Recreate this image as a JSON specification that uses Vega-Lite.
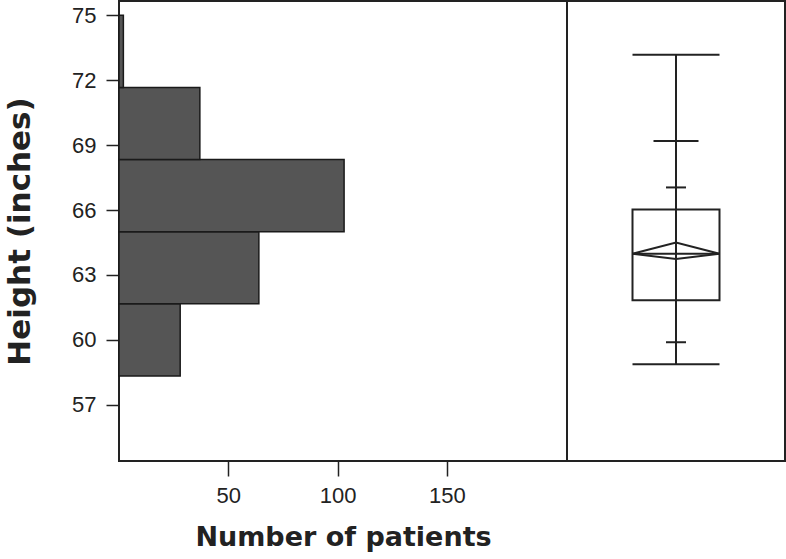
{
  "$schema": "https://vega.github.io/schema/vega-lite/v6.json",
  "padding": {"left": 3, "top": 0, "right": 0, "bottom": 2},
  "background": "white",
  "spacing": 0,
  "bounds": "flush",
  "config": {
    "view": {"stroke": "#222222", "strokeWidth": 2},
    "axis": {
      "labelFont": "Liberation Sans",
      "titleFont": "DejaVu Sans",
      "labelColor": "#222222",
      "titleColor": "#222222",
      "tickColor": "#222222",
      "tickWidth": 1.5,
      "grid": false,
      "domain": false,
      "labelFontSize": 22,
      "titleFontWeight": "bold"
    }
  },
  "hconcat": [
    {
      "width": 448,
      "height": 460,
      "data": {
        "values": [
          {"bin_start": 58.333, "bin_end": 61.667, "count": 28},
          {"bin_start": 61.667, "bin_end": 65.0, "count": 64},
          {"bin_start": 65.0, "bin_end": 68.333, "count": 103},
          {"bin_start": 68.333, "bin_end": 71.667, "count": 37},
          {"bin_start": 71.667, "bin_end": 75.0, "count": 2}
        ]
      },
      "mark": {"type": "bar", "fill": "#555555", "stroke": "#1a1a1a", "strokeWidth": 1.5, "orient": "horizontal"},
      "encoding": {
        "y": {
          "field": "bin_start",
          "type": "quantitative",
          "scale": {"domain": [54.63, 75.43], "nice": false, "zero": false},
          "axis": {
            "title": "Height (inches)",
            "values": [57, 60, 63, 66, 69, 72, 75],
            "tickSize": 13,
            "labelPadding": 10,
            "titleFontSize": 31,
            "titlePadding": 35
          }
        },
        "y2": {"field": "bin_end"},
        "x": {
          "field": "count",
          "type": "quantitative",
          "scale": {"domain": [0, 205], "nice": false},
          "axis": {
            "title": "Number of patients",
            "values": [50, 100, 150],
            "tickSize": 15,
            "labelPadding": 9,
            "titleFontSize": 27,
            "titlePadding": 18
          }
        },
        "x2": {"datum": 0}
      }
    },
    {
      "width": 218,
      "height": 460,
      "data": {
        "values": [
          {"group": "Height", "min": 59, "p10": 60, "q1": 61.9, "median": 64, "mean": 64, "q3": 66, "p90": 67, "p975": 69.1, "max": 73}
        ]
      },
      "encoding": {
        "x": {"field": "group", "type": "nominal", "scale": {"paddingInner": 0, "paddingOuter": 0}, "axis": null}
      },
      "layer": [
        {
          "mark": {"type": "rule", "stroke": "#222222", "strokeWidth": 2},
          "encoding": {
            "y": {"field": "min", "type": "quantitative", "scale": {"domain": [54.63, 75.43], "nice": false, "zero": false}, "axis": null},
            "y2": {"field": "max"}
          }
        },
        {
          "mark": {"type": "bar", "filled": false, "stroke": "#222222", "strokeWidth": 2, "width": 87},
          "encoding": {
            "y": {"field": "q1", "type": "quantitative", "scale": {"domain": [54.63, 75.43], "nice": false, "zero": false}, "axis": null},
            "y2": {"field": "q3"}
          }
        },
        {
          "mark": {"type": "tick", "color": "#222222", "opacity": 1, "thickness": 2, "size": 87},
          "encoding": {
            "y": {"field": "min", "type": "quantitative", "scale": {"domain": [54.63, 75.43], "nice": false, "zero": false}, "axis": null}
          }
        },
        {
          "mark": {"type": "tick", "color": "#222222", "opacity": 1, "thickness": 2, "size": 87},
          "encoding": {
            "y": {"field": "max", "type": "quantitative", "scale": {"domain": [54.63, 75.43], "nice": false, "zero": false}, "axis": null}
          }
        },
        {
          "mark": {"type": "tick", "color": "#222222", "opacity": 1, "thickness": 2, "size": 87},
          "encoding": {
            "y": {"field": "median", "type": "quantitative", "scale": {"domain": [54.63, 75.43], "nice": false, "zero": false}, "axis": null}
          }
        },
        {
          "mark": {"type": "tick", "color": "#222222", "opacity": 1, "thickness": 2, "size": 45},
          "encoding": {
            "y": {"field": "p975", "type": "quantitative", "scale": {"domain": [54.63, 75.43], "nice": false, "zero": false}, "axis": null}
          }
        },
        {
          "mark": {"type": "tick", "color": "#222222", "opacity": 1, "thickness": 2, "size": 20},
          "encoding": {
            "y": {"field": "p90", "type": "quantitative", "scale": {"domain": [54.63, 75.43], "nice": false, "zero": false}, "axis": null}
          }
        },
        {
          "mark": {"type": "tick", "color": "#222222", "opacity": 1, "thickness": 2, "size": 20},
          "encoding": {
            "y": {"field": "p10", "type": "quantitative", "scale": {"domain": [54.63, 75.43], "nice": false, "zero": false}, "axis": null}
          }
        },
        {
          "mark": {"type": "point", "shape": "M-1,0L0,-0.26L1,0L0,0.12Z", "filled": false, "stroke": "#222222", "strokeWidth": 2, "size": 7569, "opacity": 1},
          "encoding": {
            "y": {"field": "mean", "type": "quantitative", "scale": {"domain": [54.63, 75.43], "nice": false, "zero": false}, "axis": null}
          }
        }
      ]
    }
  ]
}
